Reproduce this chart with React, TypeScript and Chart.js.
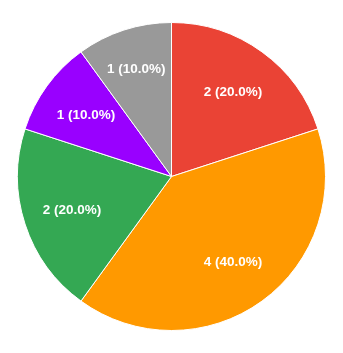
import React, { useEffect, useRef } from "react";
import { Chart, registerables } from "chart.js";

Chart.register(...registerables);

const categories = ["A", "B", "C", "D", "E"];
const values = [2, 4, 2, 1, 1];
const colors = ["#EA4335", "#FF9900", "#34A853", "#9900FF", "#999999"];

const FONT_SIZE = 13.5;
const MARGIN = 6;

const labelPlugin = {
  id: "sliceLabels",
  afterDatasetsDraw(chart: any) {
    const ctx = chart.ctx;
    const meta = chart.getDatasetMeta(0);
    const data = chart.data.datasets[0].data as number[];
    const total = data.reduce((a, b) => a + b, 0);
    ctx.save();
    ctx.fillStyle = "#ffffff";
    ctx.font = `bold ${FONT_SIZE}px 'Liberation Sans', Arial, sans-serif`;
    ctx.textAlign = "center";
    ctx.textBaseline = "middle";
    meta.data.forEach((arc: any, i: number) => {
      const { x, y, startAngle, endAngle, outerRadius } = arc.getProps(
        ["x", "y", "startAngle", "endAngle", "outerRadius"],
        true
      );
      const mid = (startAngle + endAngle) / 2;
      const pct = ((data[i] / total) * 100).toFixed(1);
      const text = `${data[i]} (${pct}%)`;
      const w = ctx.measureText(text).width;
      const h = FONT_SIZE * 0.72;
      const margin = (px: number, py: number) => {
        const dx = px - x;
        const dy = py - y;
        const m1 = Math.cos(startAngle) * dy - Math.sin(startAngle) * dx;
        const m2 = Math.sin(endAngle) * dx - Math.cos(endAngle) * dy;
        return Math.min(m1, m2);
      };
      let r = outerRadius * 0.68;
      if (endAngle - startAngle < Math.PI) {
        for (let k = 0; k < 60; k++) {
          const cx = x + Math.cos(mid) * r;
          const cy = y + Math.sin(mid) * r;
          const corners = [
            [cx - w / 2, cy - h / 2],
            [cx + w / 2, cy - h / 2],
            [cx - w / 2, cy + h / 2],
            [cx + w / 2, cy + h / 2],
          ];
          const m = Math.min(...corners.map(([a, b]) => margin(a, b)));
          if (m >= MARGIN) break;
          r += 0.5;
        }
      }
      ctx.fillText(text, x + Math.cos(mid) * r, y + Math.sin(mid) * r + 1);
    });
    ctx.restore();
  },
};

export default function App() {
  const ref = useRef<HTMLCanvasElement>(null);
  useEffect(() => {
    document.body.style.margin = "0";
    const chart = new Chart(ref.current!, {
      type: "pie",
      data: {
        labels: categories,
        datasets: [
          {
            data: values,
            backgroundColor: colors,
            borderColor: "#ffffff",
            borderWidth: 1,
          },
        ],
      },
      options: {
        responsive: false,
        animation: false,
        layout: { padding: { left: 17, top: 22, right: 17, bottom: 22 } },
        plugins: {
          legend: { display: false },
          tooltip: { enabled: false },
        },
      },
      plugins: [labelPlugin],
    });
    return () => chart.destroy();
  }, []);
  return (
    <div style={{ width: 343, height: 353, background: "#ffffff" }}>
      <canvas ref={ref} width={343} height={353} style={{ display: "block" }} />
    </div>
  );
}
